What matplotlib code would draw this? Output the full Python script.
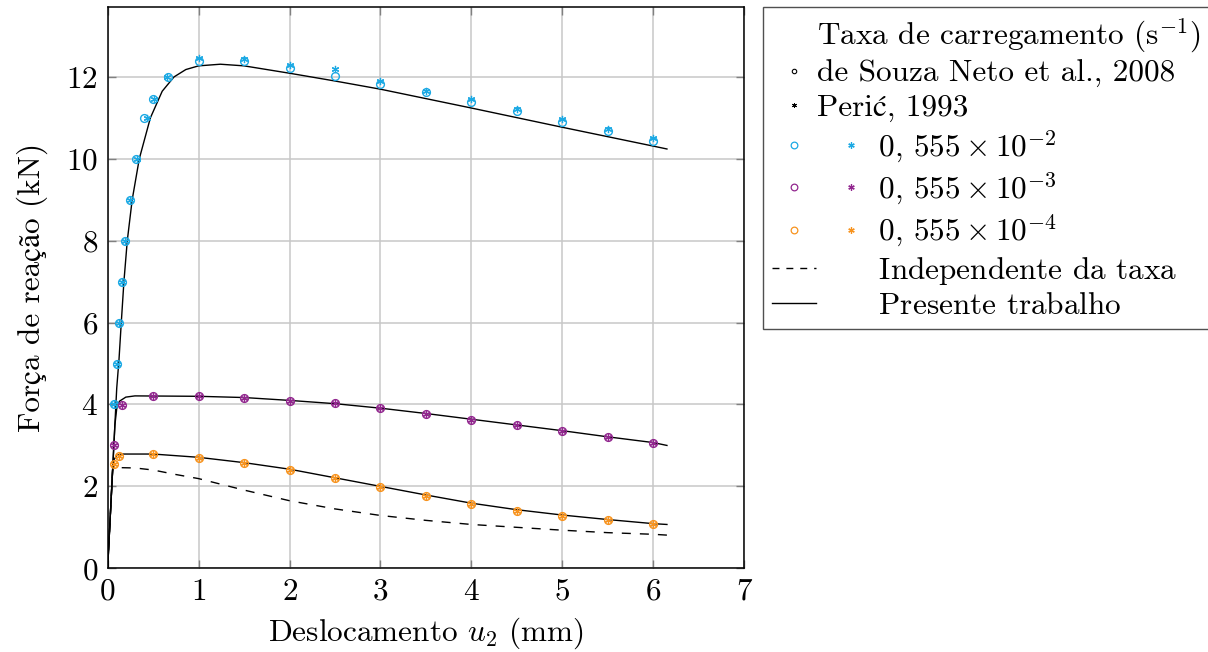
import matplotlib
matplotlib.use('Agg')
import matplotlib.pyplot as plt
from matplotlib.lines import Line2D
from matplotlib.legend_handler import HandlerBase

plt.rcParams['font.family'] = ['cmr10', 'STIXGeneral', 'DejaVu Serif']
plt.rcParams['mathtext.fontset'] = 'cm'
plt.rcParams['axes.formatter.use_mathtext'] = True
plt.rcParams['font.size'] = 22.5

cor_c = '#1ba9e4'
cor_p = '#92278f'
cor_o = '#f7931e'

# taxa 0,555e-2 : de Souza Neto (circulos) e Peric (estrelas)
x_c = [0.066, 0.1, 0.124, 0.157, 0.187, 0.245, 0.311, 0.40, 0.50, 0.66,
       1.0, 1.5, 2.0, 2.5, 3.0, 3.5, 4.0, 4.5, 5.0, 5.5, 6.0]
y_c_souza = [4.0, 5.0, 6.0, 7.0, 8.0, 9.0, 10.0, 11.0, 11.45, 12.0,
             12.38, 12.38, 12.22, 12.03, 11.83, 11.62, 11.39, 11.16, 10.91, 10.67, 10.44]
x_c_peric = [0.07, 0.1, 0.126, 0.16, 0.19, 0.25, 0.32, 0.43, 0.51, 0.65,
             1.0, 1.5, 2.0, 2.5, 3.0, 3.5, 4.0, 4.5, 5.0, 5.5, 6.0]
y_c_peric = [4.0, 5.0, 6.0, 7.0, 8.0, 9.0, 10.0, 11.0, 11.45, 12.0,
             12.45, 12.43, 12.28, 12.2, 11.9, 11.66, 11.47, 11.21, 10.98, 10.74, 10.5]

# taxa 0,555e-3
x_p = [0.07, 0.16, 0.5, 1.0, 1.5, 2.0, 2.5, 3.0, 3.5, 4.0, 4.5, 5.0, 5.5, 6.0]
y_p_souza = [3.0, 3.99, 4.21, 4.2, 4.17, 4.09, 4.03, 3.91, 3.78, 3.63, 3.51, 3.36, 3.21, 3.07]
y_p_peric = [3.0, 3.99, 4.21, 4.2, 4.17, 4.09, 4.03, 3.91, 3.78, 3.63, 3.51, 3.36, 3.21, 3.07]

# taxa 0,555e-4
x_o = [0.07, 0.13, 0.5, 1.0, 1.5, 2.0, 2.5, 3.0, 3.5, 4.0, 4.5, 5.0, 5.5, 6.0]
y_o_souza = [2.54, 2.75, 2.78, 2.70, 2.57, 2.41, 2.21, 1.99, 1.77, 1.57, 1.41, 1.28, 1.17, 1.08]
y_o_peric = [2.54, 2.75, 2.78, 2.70, 2.57, 2.41, 2.21, 1.99, 1.77, 1.57, 1.41, 1.28, 1.17, 1.08]

# presente trabalho
xl_c = [0, 0.1, 0.125, 0.15, 0.179, 0.216, 0.27, 0.348, 0.47, 0.6, 0.73, 0.86, 1.0,
        1.24, 1.5, 2.0, 2.5, 3.0, 4.0, 5.0, 6.0, 6.15]
yl_c = [0, 4.4, 5.1, 6.0, 7.0, 8.0, 9.0, 10.0, 11.0, 11.65, 12.0, 12.18, 12.27,
        12.31, 12.27, 12.09, 11.9, 11.7, 11.24, 10.77, 10.31, 10.24]
xl_p = [0, 0.08, 0.1, 0.13, 0.2, 0.3, 1.0, 1.5, 2.0, 2.5, 3.0, 3.5, 4.0, 4.5,
        5.0, 5.5, 6.0, 6.15]
yl_p = [0, 3.5, 3.9, 4.08, 4.18, 4.21, 4.2, 4.17, 4.1, 4.02, 3.91, 3.78, 3.64, 3.5,
        3.36, 3.21, 3.07, 3.0]
xl_o = [0, 0.055, 0.07, 0.1, 0.15, 0.5, 1.0, 1.5, 2.0, 2.5, 3.0, 3.5, 4.0, 4.5,
        5.0, 5.5, 6.0, 6.15]
yl_o = [0, 2.4, 2.65, 2.76, 2.79, 2.79, 2.71, 2.58, 2.42, 2.21, 2.0, 1.79, 1.59, 1.43,
        1.30, 1.19, 1.09, 1.07]

# independente da taxa
x_ind = [0, 0.055, 0.09, 0.3, 0.5, 0.75, 1.0, 1.5, 2.0, 2.5, 3.0, 3.5, 4.0, 4.5,
         5.0, 5.5, 6.0, 6.15]
y_ind = [0, 2.4, 2.46, 2.45, 2.40, 2.29, 2.19, 1.91, 1.65, 1.45, 1.29, 1.17, 1.07, 1.0,
         0.93, 0.87, 0.83, 0.81]

taxas = [r'$\hspace{2.25}0,\,555\times10^{-2}$',
         r'$\hspace{2.25}0,\,555\times10^{-3}$',
         r'$\hspace{2.25}0,\,555\times10^{-4}$']

estrela = (6, 2, 0)


class ParHandler(HandlerBase):
    # circulo no centro da caixa e estrela mais a direita
    def create_artists(self, legend, orig_handle, xdescent, ydescent, width,
                       height, fontsize, trans):
        circ, star = orig_handle
        y = height / 2 - ydescent
        x0 = width / 2 - xdescent
        a = Line2D([x0], [y], ls='none', marker='o', ms=4.8, mfc='none',
                   mec=circ.get_markeredgecolor(), mew=0.9)
        b = Line2D([x0 + 1.83 * fontsize], [y], ls='none', marker=estrela, ms=4.6,
                   mec=star.get_markeredgecolor(), mew=0.9)
        a.set_transform(trans)
        b.set_transform(trans)
        return [a, b]


fig = plt.figure(figsize=(12.08, 6.52), dpi=100)
ax = fig.add_axes([0.0891, 0.1284, 0.527, 0.8604])

ax.grid(True, color='#c8c8c8', lw=1.1)
ax.set_axisbelow(True)

lw = 1.0
ax.plot(x_ind, y_ind, color='k', lw=lw, dashes=(6.5, 6.5))
ax.plot(xl_c, yl_c, color='k', lw=lw)
ax.plot(xl_p, yl_p, color='k', lw=lw)
ax.plot(xl_o, yl_o, color='k', lw=lw)

for xs, ys, xp, yp, cor in [(x_c, y_c_souza, x_c_peric, y_c_peric, cor_c),
                            (x_p, y_p_souza, x_p, y_p_peric, cor_p),
                            (x_o, y_o_souza, x_o, y_o_peric, cor_o)]:
    ax.plot(xs, ys, ls='none', marker='o', ms=5.6, mfc='none', mec=cor, mew=1.0)
    ax.plot(xp, yp, ls='none', marker=estrela, ms=5.2, mec=cor, mew=0.9)

ax.set_xlim(0, 7)
ax.set_ylim(0, 13.7)
ax.set_xticks(range(0, 8))
ax.set_yticks(range(0, 13, 2))
ax.tick_params(direction='in', top=True, right=True, length=6, width=1.0,
               color='#808080', pad=7)
for s in ax.spines.values():
    s.set_linewidth(1.1)

ax.set_xlabel(r'Deslocamento $u_2$ (mm)', labelpad=7)
ax.set_ylabel('Força de reação (kN)', labelpad=13)

vazio = Line2D([], [], ls='none')
h_souza = Line2D([], [], ls='none', marker='o', ms=3.2, mfc='none', mec='k', mew=0.8)
h_peric = Line2D([], [], ls='none', marker=estrela, ms=3.6, mec='k', mew=0.7)
pares = []
for cor in [cor_c, cor_p, cor_o]:
    pares.append((Line2D([], [], ls='none', marker='o', mec=cor),
                  Line2D([], [], ls='none', marker=estrela, mec=cor)))
h_ind = Line2D([], [], color='k', lw=lw, dashes=(5, 5))
h_pres = Line2D([], [], color='k', lw=lw)

handles = [vazio, h_souza, h_peric] + pares + [h_ind, h_pres]
labels = [r'Taxa de carregamento (s$^{-1}$)', 'de Souza Neto et al., 2008',
          'Perić, 1993'] + taxas + [r'$\hspace{2.25}$Independente da taxa',
                                    r'$\hspace{2.25}$Presente trabalho']

leg = ax.legend(handles, labels, loc='upper left', bbox_to_anchor=(1.03, 1.0),
                borderaxespad=0, handlelength=1.4, handletextpad=0.05,
                borderpad=0.28, labelspacing=0.18, fancybox=False,
                edgecolor='#505050', framealpha=1,
                handler_map={tuple: ParHandler()})
leg.get_frame().set_linewidth(1.0)

fig.savefig('out.png', dpi=100)
